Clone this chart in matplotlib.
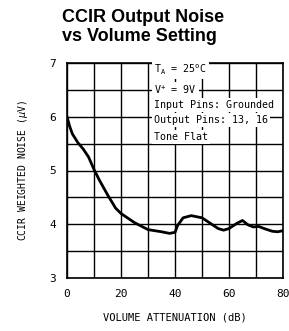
import numpy as np
import matplotlib.pyplot as plt

# volume attenuation (dB) vs CCIR weighted noise (uV)
atten = [0, 1, 2, 4, 6, 8, 10, 12, 15, 18, 20, 25, 30, 35, 38, 40, 41, 43,
         46, 50, 53, 56, 58, 60, 63, 65, 67, 69, 71, 73, 76, 78, 80]
noise = [6.0, 5.82, 5.68, 5.52, 5.4, 5.25, 5.02, 4.82, 4.55, 4.3, 4.2, 4.03,
         3.9, 3.86, 3.83, 3.85, 3.98, 4.12, 4.16, 4.12, 4.02, 3.92, 3.89,
         3.92, 4.02, 4.07, 3.99, 3.95, 3.96, 3.92, 3.87, 3.86, 3.88]
xticks = [0, 20, 40, 60, 80]
yticks = [3, 4, 5, 6, 7]
notes = [r"T$_\mathregular{A}$ = 25$^\mathregular{o}$C",
         r"V$^\mathregular{+}$ = 9V",
         "Input Pins: Grounded",
         "Output Pins: 13, 16",
         "Tone Flat"]
note_y = [6.87, 6.5, 6.22, 5.94, 5.62]

mono = "DejaVu Sans Mono"

fig = plt.figure(figsize=(2.89, 3.31), dpi=100)
ax = fig.add_axes([67/289, 1 - 278/331, 216/289, 215/331])

ax.set_xlim(0, 80)
ax.set_ylim(3, 7)
ax.set_xticks(xticks)
ax.set_yticks(yticks)
ax.set_xticks(np.arange(0, 81, 10), minor=True)
ax.set_yticks(np.arange(3, 7.01, 0.5), minor=True)
ax.grid(which="both", color="black", linewidth=1.0)
ax.tick_params(which="both", length=0, labelsize=8, pad=8)
for lab in ax.get_xticklabels() + ax.get_yticklabels():
    lab.set_family(mono)
for s in ax.spines.values():
    s.set_linewidth(1.2)

ax.plot(atten, noise, color="black", linewidth=2.0, zorder=3)

for t, yy in zip(notes, note_y):
    ax.text(32.3, yy, t, fontsize=7.2, family=mono, va="center", ha="left",
            zorder=4, bbox=dict(facecolor="white", edgecolor="none", pad=1.5))

ax.set_xlabel("VOLUME ATTENUATION (dB)", fontsize=7.5, family=mono,
              labelpad=10)
ax.set_ylabel(r"CCIR WEIGHTED NOISE ($\mu$V)", fontsize=7, family=mono,
              labelpad=14)

fig.text(62/289, 1 - 27/331, "CCIR Output Noise\nvs Volume Setting",
         fontsize=13, fontweight="bold", family="Liberation Sans",
         ha="left", va="center", linespacing=1.1)

fig.savefig("out.png", dpi=100)
